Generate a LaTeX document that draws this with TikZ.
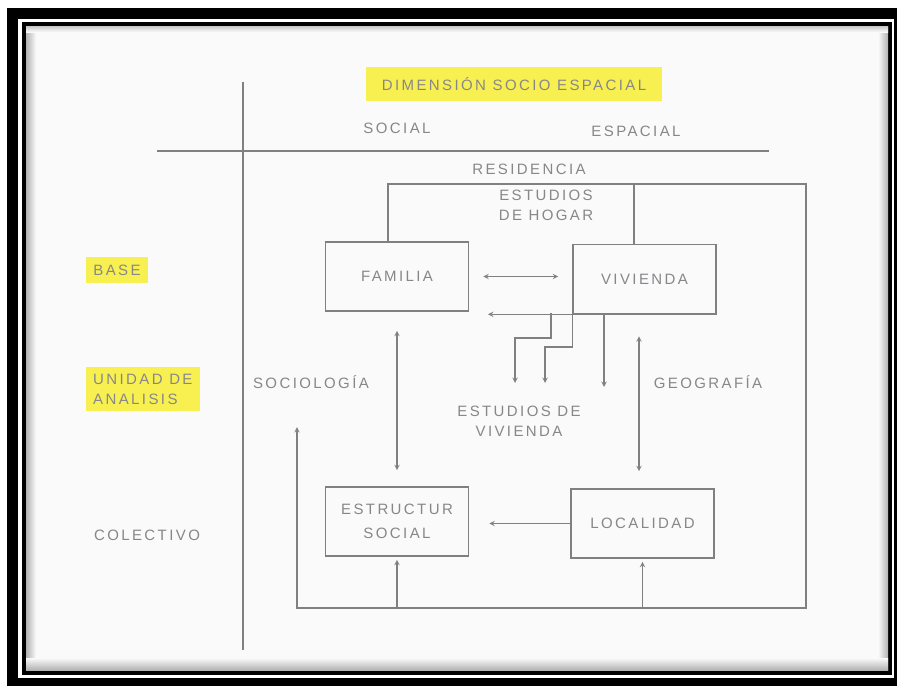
\documentclass[tikz,border=0pt]{standalone}
\usepackage{fontspec}
\setmainfont{Liberation Sans}[LetterSpace=16]
\usetikzlibrary{arrows,positioning,calc}

\definecolor{paper}{RGB}{250,250,251}
\definecolor{ink}{RGB}{128,128,130}
\definecolor{inktext}{RGB}{135,135,138}
\definecolor{hilite}{RGB}{248,240,80}

\begin{document}
\begin{tikzpicture}[
    x=1pt, y=-1pt,
    every node/.style={font=\fontsize{15}{20}\selectfont, text=inktext},
    box/.style={rectangle, draw=ink, line width=1.6pt, minimum width=143pt, minimum height=69pt, align=center, inner sep=0pt},
    lbl/.style={align=center, inner sep=1pt},
    hl/.style={fill=hilite, inner xsep=7pt, inner ysep=8pt},
    wire/.style={draw=ink, line width=1.4pt},
    arrow/.style={wire, ->, >=stealth},
    dbl/.style={wire, <->, >=stealth}
]
\useasboundingbox (0,0) rectangle (897,686);

% Frame of the scan
\fill[white] (0,0) rectangle (897,686);
\fill[black] (7,8) rectangle (897,686);
\fill[white] (18,19) rectangle (894,678);
\fill[black] (22,22) rectangle (892,675);
\fill[paper] (26,26) rectangle (888,670);
\shade[left color=gray!60, right color=paper] (26,26) rectangle (36,670);
\shade[left color=paper, right color=gray!60] (878,26) rectangle (888,670);
\shade[top color=gray!45, bottom color=paper] (26,26) rectangle (888,32);
\shade[top color=paper, bottom color=gray!60] (26,658) rectangle (888,670);

% Axes
\coordinate (axtop) at (243,82);
\coordinate (axbot) at (243,650);
\coordinate (axl) at (157,151);
\coordinate (axr) at (769,151);
\draw[wire] (axtop) -- (axbot);
\draw[wire] (axl) -- (axr);

% Headings
\node[hl, inner xsep=16pt, inner ysep=10pt] (title) at (514,84) {DIMENSIÓN SOCIO ESPACIAL};
\node (social) at (397,128) {SOCIAL};
\node (espacial) at (636,131) {ESPACIAL};
\node (residencia) at (529,169) {RESIDENCIA};
\node[lbl] (hogar) at (546,205) {ESTUDIOS\\DE HOGAR};

% Row labels
\node[hl] (base) at (117,270) {BASE};
\node[hl, align=left, anchor=west, inner ysep=7pt] (unidad) at (86,389) {UNIDAD DE\\ANALISIS};
\node (colectivo) at (147,535) {COLECTIVO};

% Boxes
\node[box] (familia) at (397,276.5) {FAMILIA};
\node[box] (vivienda) at (644.5,279) {VIVIENDA};
\node[box] (estructura) at (397,521.5) {ESTRUCTUR\\[4pt]SOCIAL};
\node[box] (localidad) at (642.5,523.5) {LOCALIDAD};

% Middle labels
\node (sociologia) at (311,382) {SOCIOLOGÍA};
\node (geografia) at (708,382) {GEOGRAFÍA};
\node[lbl] (vivest) at (519,421) {ESTUDIOS DE\\VIVIENDA};

% Outer loop
\coordinate (lpup) at (297,427);
\coordinate (lpbl) at (297,608);
\coordinate (lptr) at (806,184);
\coordinate (lptl) at (388,184);
\coordinate (lpmid) at (634,184);
\draw[arrow] (familia.north -| lptl) |- (lptr) |- (lpbl) -- (lpup);
\draw[wire] (lpmid) -- (vivienda.north -| lpmid);
\draw[arrow, shorten >=3pt] (estructura.south |- lpbl) -- (estructura.south);
\draw[arrow, shorten >=3pt] (localidad.south |- lpbl) -- (localidad.south);

% Links between boxes
\draw[dbl, shorten <=14pt, shorten >=14pt] (familia.east) -- (familia.east -| vivienda.west);
\draw[dbl, shorten <=19pt, shorten >=16pt] (familia.south) -- (estructura.north);
\draw[dbl, shorten <=22pt, shorten >=17pt] ([xshift=-5.5pt]vivienda.south) -- ([xshift=-3.5pt]localidad.north);
\draw[arrow, shorten >=20pt] (localidad.west) -- (localidad.west -| estructura.east);

% Return line and branches
\coordinate (ret) at (488,313);
\coordinate (br1) at (551,313);
\coordinate (k1) at (515,338);
\coordinate (t1) at (515,383);
\coordinate (k2) at (545,347);
\coordinate (t2) at (545,383);
\coordinate (t3) at (604,387);
\draw[arrow] (vivienda.south east) -- (vivienda.south east -| ret);
\draw[arrow] (br1) |- (k1) -- (t1);
\draw[arrow] (vivienda.south west) |- (k2) -- (t2);
\draw[arrow] (t3 |- vivienda.south) -- (t3);

\end{tikzpicture}
\end{document}
